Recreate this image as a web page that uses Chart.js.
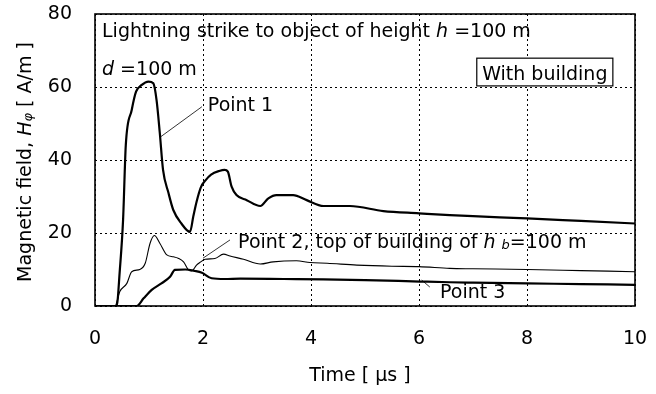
<!DOCTYPE html>
<html>
<head>
<meta charset="utf-8">
<script src="https://cdn.jsdelivr.net/npm/chart.js@4/dist/chart.umd.min.js"></script>
<style>
  html, body { margin: 0; padding: 0; background: #fff; }
  #wrap { width: 656px; height: 394px; }
</style>
</head>
<body>
<div id="wrap"><canvas id="c" width="656" height="394"></canvas></div>
<script>
// Axis ticks
const xTicks = [0, 2, 4, 6, 8, 10];
const yTicks = [0, 20, 40, 60, 80];

// Point 1 (ground level, d = 100 m): time [us], H [A/m]
const t1 = [0, 0.40, 0.46, 0.52, 0.57, 0.68, 0.76, 0.86, 0.99, 1.08, 1.14, 1.20, 1.26, 1.36, 1.45, 1.60, 1.76, 1.82, 1.88, 1.96, 2.05, 2.15, 2.30, 2.40, 2.46, 2.53, 2.62, 2.81, 3.06, 3.21, 3.36, 3.67, 3.92, 4.23, 4.72, 5.34, 6.00, 6.57, 7.00, 8.00, 9.00, 10.00];
const v1 = [0, 0, 9.9, 23.6, 44.0, 53.7, 58.7, 60.5, 61.5, 61.0, 56.4, 47.4, 37.3, 31.0, 26.3, 22.6, 20.3, 24.5, 28.5, 32.5, 34.5, 36.0, 37.0, 37.3, 36.8, 32.7, 30.4, 29.0, 27.4, 29.5, 30.4, 30.4, 29.0, 27.4, 27.4, 26.0, 25.4, 24.9, 24.6, 24.0, 23.3, 22.6];

// Point 2 (top of building, hb = 100 m)
const t2 = [0, 0.37, 0.46, 0.59, 0.68, 0.83, 0.93, 1.02, 1.10, 1.20, 1.33, 1.45, 1.54, 1.64, 1.73, 1.79, 1.88, 1.94, 2.04, 2.22, 2.38, 2.50, 2.75, 3.06, 3.30, 3.73, 3.98, 4.30, 4.85, 5.50, 6.00, 6.57, 7.00, 8.00, 9.00, 10.00];
const v2 = [0, 0, 4.0, 6.2, 9.4, 10.0, 11.7, 17.2, 19.3, 17.2, 14.0, 13.5, 13.1, 12.1, 9.9, 9.6, 11.2, 11.9, 12.8, 13.0, 14.2, 13.7, 12.8, 11.5, 12.1, 12.4, 11.9, 11.7, 11.2, 10.9, 10.8, 10.3, 10.2, 10.0, 9.7, 9.4];

// Point 3
const t3 = [0, 0.77, 0.90, 1.05, 1.23, 1.39, 1.48, 1.67, 1.85, 1.98, 2.16, 2.40, 2.69, 3.50, 4.23, 5.00, 6.02, 6.57, 7.00, 8.00, 9.00, 10.00];
const v3 = [0, 0, 2.1, 4.4, 6.2, 8.0, 9.9, 10.0, 9.6, 9.1, 7.6, 7.4, 7.5, 7.4, 7.3, 7.1, 6.7, 6.5, 6.4, 6.2, 6.0, 5.8];

const toXY = (t, v) => t.map((x, i) => ({ x: x, y: v[i] }));

const FONT = '"DejaVu Sans", "Liberation Sans", Arial, sans-serif';
const FS = 19;

// Text labels placed in data coordinates (left edge, baseline)
const notes = [
  { x: 0.13, y: 73.7, parts: [['Lightning strike to object of height ', 'n'], ['h', 'i'], [' =100 m', 'n']] },
  { x: 0.13, y: 63.3, parts: [['d', 'i'], [' =100 m', 'n']] },
  { x: 2.09, y: 53.3, parts: [['Point 1', 'n']] },
  { x: 2.65, y: 15.8, parts: [['Point 2, top of building of ', 'n'], ['h', 'i'], [' ', 'n'], ['b', 's'], ['=100 m', 'n']] },
  { x: 6.39, y: 2.3, parts: [['Point 3', 'n']] }
];
const leaders = [
  [1.98, 54.6, 1.22, 46.4],
  [2.50, 18.1, 2.00, 13.1],
  [6.20, 5.2, 6.05, 7.1]
];
const boxNote = { x0: 7.07, x1: 9.59, y0: 67.9, y1: 60.3, text: 'With building' };

function fontFor(st) {
  if (st === 'i') return 'italic ' + FS + 'px ' + FONT;
  if (st === 's') return 'italic ' + Math.round(FS * 0.7) + 'px ' + FONT;
  return FS + 'px ' + FONT;
}

function drawRich(ctx, parts, x, y) {
  ctx.textBaseline = 'alphabetic';
  ctx.textAlign = 'left';
  let cx = x;
  for (const [txt, st] of parts) {
    ctx.font = fontFor(st);
    ctx.fillText(txt, cx, y + (st === 's' ? 1 : 0));
    cx += ctx.measureText(txt).width;
  }
  return cx - x;
}

function richWidth(ctx, parts) {
  let w = 0;
  for (const [txt, st] of parts) {
    ctx.font = fontFor(st);
    w += ctx.measureText(txt).width;
  }
  return w;
}

// Keep the plot rectangle fixed: the axes reserve exact room and add no label overhang
function fixAxis(size, horizontal) {
  return s => {
    if (horizontal) s.height = size; else s.width = size;
    s.paddingTop = 0; s.paddingBottom = 0; s.paddingLeft = 0; s.paddingRight = 0;
  };
}

const framePlugin = {
  id: 'frame',
  beforeDatasetsDraw(chart) {
    const { ctx, chartArea: a } = chart;
    ctx.save();
    ctx.strokeStyle = '#000';
    ctx.lineWidth = 1.6;
    ctx.strokeRect(a.left, a.top, a.right - a.left, a.bottom - a.top);
    ctx.restore();
  }
};

const notesPlugin = {
  id: 'notes',
  afterDraw(chart) {
    const { ctx } = chart;
    const xs = chart.scales.x, ys = chart.scales.y;
    const px = v => xs.getPixelForValue(v), py = v => ys.getPixelForValue(v);
    ctx.save();
    ctx.fillStyle = '#000';
    ctx.strokeStyle = '#000';

    // leader lines
    ctx.lineWidth = 0.8;
    for (const [a, b, c, d] of leaders) {
      ctx.beginPath();
      ctx.moveTo(px(a), py(b));
      ctx.lineTo(px(c), py(d));
      ctx.stroke();
    }

    // labels
    for (const n of notes) drawRich(ctx, n.parts, px(n.x), py(n.y));

    // boxed label
    const bx0 = px(boxNote.x0), bx1 = px(boxNote.x1), by0 = py(boxNote.y0), by1 = py(boxNote.y1);
    ctx.fillStyle = '#fff';
    ctx.fillRect(bx0, by0, bx1 - bx0, by1 - by0);
    ctx.lineWidth = 1.2;
    ctx.strokeRect(bx0, by0, bx1 - bx0, by1 - by0);
    ctx.fillStyle = '#000';
    ctx.font = FS + 'px ' + FONT;
    ctx.textAlign = 'center';
    ctx.textBaseline = 'alphabetic';
    ctx.fillText(boxNote.text, (bx0 + bx1) / 2, by1 - 6);

    // axis titles
    const a = chart.chartArea;
    const yParts = [['Magnetic field, ', 'n'], ['H', 'i'], ['φ', 's'], [' [ A/m ]', 'n']];
    const w = richWidth(ctx, yParts);
    ctx.save();
    ctx.translate(31, (a.top + a.bottom) / 2 + 2);
    ctx.rotate(-Math.PI / 2);
    drawRich(ctx, yParts, -w / 2, 0);
    ctx.restore();

    ctx.font = FS + 'px ' + FONT;
    ctx.textAlign = 'center';
    ctx.textBaseline = 'alphabetic';
    ctx.fillText('Time [ μs ]', 360, 381);
    ctx.restore();
  }
};

new Chart(document.getElementById('c'), {
  type: 'line',
  data: {
    datasets: [
      { label: 'Point 1', data: toXY(t1, v1), borderColor: '#000', borderWidth: 2.2, pointRadius: 0, cubicInterpolationMode: 'monotone', fill: false },
      { label: 'Point 2', data: toXY(t2, v2), borderColor: '#000', borderWidth: 1.1, pointRadius: 0, cubicInterpolationMode: 'monotone', fill: false },
      { label: 'Point 3', data: toXY(t3, v3), borderColor: '#000', borderWidth: 2.2, pointRadius: 0, cubicInterpolationMode: 'monotone', fill: false }
    ]
  },
  options: {
    responsive: false,
    devicePixelRatio: 1,
    animation: false,
    layout: { padding: { top: 14, right: 21, left: 0, bottom: 0 } },
    plugins: { legend: { display: false }, tooltip: { enabled: false } },
    scales: {
      x: {
        type: 'linear', min: 0, max: 10,
        afterFit: fixAxis(88, true),
        afterBuildTicks: s => { s.ticks = xTicks.map(v => ({ value: v })); },
        ticks: { color: '#000', font: { size: FS, family: FONT }, padding: 22, maxRotation: 0 },
        grid: { color: '#000', lineWidth: 1, drawTicks: false },
        border: { display: false, dash: [2, 3] }
      },
      y: {
        type: 'linear', min: 0, max: 80,
        afterFit: fixAxis(95, false),
        afterBuildTicks: s => { s.ticks = yTicks.map(v => ({ value: v })); },
        ticks: { color: '#000', font: { size: FS, family: FONT }, padding: 23 },
        grid: { color: '#000', lineWidth: 1, drawTicks: false },
        border: { display: false, dash: [2, 3] }
      }
    }
  },
  plugins: [framePlugin, notesPlugin]
});
</script>
</body>
</html>
